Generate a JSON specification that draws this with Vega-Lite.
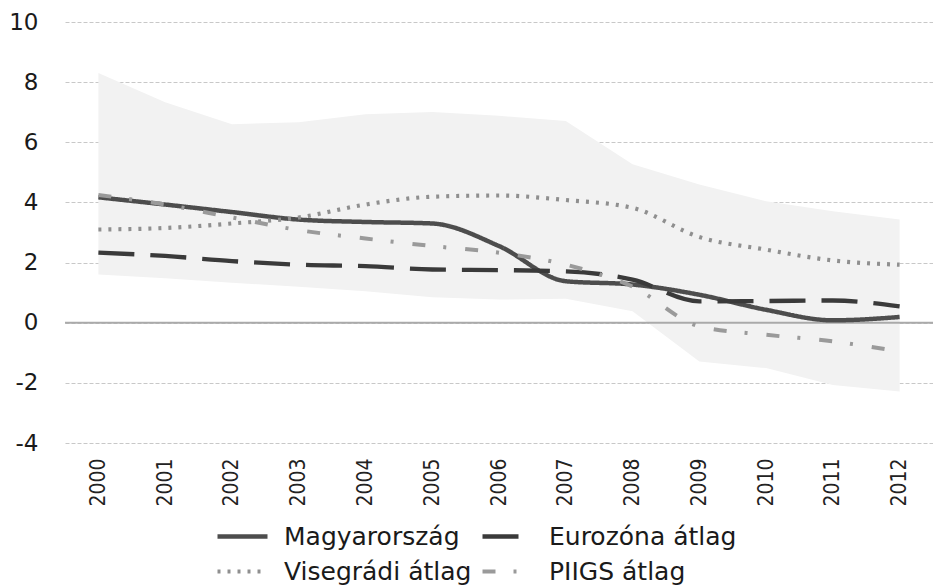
{
  "$schema": "https://vega.github.io/schema/vega-lite/v6.json",
  "autosize": "none",
  "width": 868,
  "height": 421,
  "padding": {"left": 65, "top": 22, "right": 0, "bottom": 145},
  "background": "white",
  "config": {
    "view": {"stroke": null},
    "font": "DejaVu Sans"
  },
  "datasets": {
    "band": [
      {"year": "2000", "upper": 8.3, "lower": 1.6},
      {"year": "2001", "upper": 7.33, "lower": 1.48},
      {"year": "2002", "upper": 6.6, "lower": 1.33},
      {"year": "2003", "upper": 6.67, "lower": 1.2},
      {"year": "2004", "upper": 6.93, "lower": 1.05},
      {"year": "2005", "upper": 7.01, "lower": 0.85},
      {"year": "2006", "upper": 6.88, "lower": 0.77},
      {"year": "2007", "upper": 6.71, "lower": 0.8},
      {"year": "2008", "upper": 5.27, "lower": 0.38},
      {"year": "2009", "upper": 4.6, "lower": -1.29},
      {"year": "2010", "upper": 4.04, "lower": -1.51},
      {"year": "2011", "upper": 3.71, "lower": -2.07},
      {"year": "2012", "upper": 3.43, "lower": -2.29}
    ],
    "series": [
      {"year": "2000", "series": "Magyarország", "value": 4.17},
      {"year": "2001", "series": "Magyarország", "value": 3.93},
      {"year": "2002", "series": "Magyarország", "value": 3.68},
      {"year": "2003", "series": "Magyarország", "value": 3.43},
      {"year": "2004", "series": "Magyarország", "value": 3.35},
      {"year": "2005", "series": "Magyarország", "value": 3.3},
      {"year": "2006", "series": "Magyarország", "value": 2.55},
      {"year": "2007", "series": "Magyarország", "value": 1.38},
      {"year": "2008", "series": "Magyarország", "value": 1.27},
      {"year": "2009", "series": "Magyarország", "value": 0.93},
      {"year": "2010", "series": "Magyarország", "value": 0.43},
      {"year": "2011", "series": "Magyarország", "value": 0.08},
      {"year": "2012", "series": "Magyarország", "value": 0.19},
      {"year": "2000", "series": "Eurozóna átlag", "value": 2.33},
      {"year": "2001", "series": "Eurozóna átlag", "value": 2.22},
      {"year": "2002", "series": "Eurozóna átlag", "value": 2.05},
      {"year": "2003", "series": "Eurozóna átlag", "value": 1.93},
      {"year": "2004", "series": "Eurozóna átlag", "value": 1.88},
      {"year": "2005", "series": "Eurozóna átlag", "value": 1.77},
      {"year": "2006", "series": "Eurozóna átlag", "value": 1.75},
      {"year": "2007", "series": "Eurozóna átlag", "value": 1.71},
      {"year": "2008", "series": "Eurozóna átlag", "value": 1.43},
      {"year": "2009", "series": "Eurozóna átlag", "value": 0.71},
      {"year": "2010", "series": "Eurozóna átlag", "value": 0.72},
      {"year": "2011", "series": "Eurozóna átlag", "value": 0.74},
      {"year": "2012", "series": "Eurozóna átlag", "value": 0.54},
      {"year": "2000", "series": "Visegrádi átlag", "value": 3.1},
      {"year": "2001", "series": "Visegrádi átlag", "value": 3.15},
      {"year": "2002", "series": "Visegrádi átlag", "value": 3.3},
      {"year": "2003", "series": "Visegrádi átlag", "value": 3.5},
      {"year": "2004", "series": "Visegrádi átlag", "value": 3.93},
      {"year": "2005", "series": "Visegrádi átlag", "value": 4.19},
      {"year": "2006", "series": "Visegrádi átlag", "value": 4.23},
      {"year": "2007", "series": "Visegrádi átlag", "value": 4.08},
      {"year": "2008", "series": "Visegrádi átlag", "value": 3.82},
      {"year": "2009", "series": "Visegrádi átlag", "value": 2.85},
      {"year": "2010", "series": "Visegrádi átlag", "value": 2.43},
      {"year": "2011", "series": "Visegrádi átlag", "value": 2.07},
      {"year": "2012", "series": "Visegrádi átlag", "value": 1.93},
      {"year": "2000", "series": "PIIGS átlag", "value": 4.25},
      {"year": "2001", "series": "PIIGS átlag", "value": 3.93},
      {"year": "2002", "series": "PIIGS átlag", "value": 3.5},
      {"year": "2003", "series": "PIIGS átlag", "value": 3.08},
      {"year": "2004", "series": "PIIGS átlag", "value": 2.8},
      {"year": "2005", "series": "PIIGS átlag", "value": 2.55},
      {"year": "2006", "series": "PIIGS átlag", "value": 2.33},
      {"year": "2007", "series": "PIIGS átlag", "value": 1.93},
      {"year": "2008", "series": "PIIGS átlag", "value": 1.2},
      {"year": "2009", "series": "PIIGS átlag", "value": -0.12},
      {"year": "2010", "series": "PIIGS átlag", "value": -0.4},
      {"year": "2011", "series": "PIIGS átlag", "value": -0.62},
      {"year": "2012", "series": "PIIGS átlag", "value": -0.96}
    ]
  },
  "encoding": {
    "x": {
      "field": "year",
      "type": "ordinal",
      "scale": {"type": "point", "padding": 0.5},
      "axis": {
        "title": null,
        "domain": false,
        "ticks": false,
        "labelAngle": -90,
        "labelAlign": "right",
        "labelBaseline": "middle",
        "labelPadding": 15,
        "labelFont": "DejaVu Sans Condensed, DejaVu Sans",
        "labelFontSize": 21,
        "labelColor": "#222222"
      }
    }
  },
  "layer": [
    {
      "data": {"name": "band"},
      "mark": {"type": "area", "color": "#f2f2f2", "opacity": 1},
      "encoding": {
        "y": {
          "field": "upper",
          "type": "quantitative",
          "scale": {"domain": [-4, 10], "nice": false, "zero": false},
          "axis": {
            "title": null,
            "values": [-4, -2, 0, 2, 4, 6, 8, 10],
            "labelExpr": "datum.value + ''",
            "domain": false,
            "ticks": false,
            "grid": true,
            "gridDash": [4, 2],
            "gridColor": "#c8c8c8",
            "gridWidth": 1,
            "labelPadding": 27,
            "labelFontSize": 23,
            "labelColor": "#1a1a1a",
            "labelFont": "DejaVu Sans"
          }
        },
        "y2": {"field": "lower"}
      }
    },
    {
      "data": {"values": [{"z": 0}]},
      "mark": {"type": "rule", "color": "#aaaaaa", "strokeWidth": 2},
      "encoding": {
        "y": {"field": "z", "type": "quantitative"},
        "x": {"value": 0},
        "x2": {"value": 868}
      }
    },
    {
      "data": {"name": "series"},
      "mark": {"type": "line", "interpolate": "monotone", "strokeCap": "butt"},
      "encoding": {
        "y": {"field": "value", "type": "quantitative"},
        "color": {
          "field": "series",
          "type": "nominal",
          "sort": ["Magyarország", "Eurozóna átlag", "Visegrádi átlag", "PIIGS átlag"],
          "scale": {
            "domain": ["Magyarország", "Eurozóna átlag", "Visegrádi átlag", "PIIGS átlag"],
            "range": ["#4d4d4d", "#3a3a3a", "#8f8f8f", "#9a9a9a"]
          },
          "legend": {
            "title": null,
            "orient": "none",
            "legendX": 150,
            "legendY": 497,
            "padding": 0,
            "direction": "horizontal",
            "columns": 2,
            "symbolType": "stroke",
            "symbolSize": 2500,
            "symbolStrokeWidth": 4,
            "clipHeight": 35,
            "labelFontSize": 25,
            "labelFont": "DejaVu Sans",
            "labelColor": "#1a1a1a",
            "labelOffset": 14,
            "columnPadding": 8,
            "rowPadding": 0,
            "labelLimit": 300
          }
        },
        "strokeDash": {
          "field": "series",
          "type": "nominal",
          "scale": {
            "domain": ["Magyarország", "Eurozóna átlag", "Visegrádi átlag", "PIIGS átlag"],
            "range": [[1, 0], [36, 16], [3, 7], [13, 18, 3, 19]]
          },
          "legend": null
        },
        "strokeWidth": {
          "field": "series",
          "type": "nominal",
          "scale": {
            "domain": ["Magyarország", "Eurozóna átlag", "Visegrádi átlag", "PIIGS átlag"],
            "range": [4.5, 4, 3, 4]
          },
          "legend": null
        },
        "order": {"field": "series"}
      }
    }
  ]
}
